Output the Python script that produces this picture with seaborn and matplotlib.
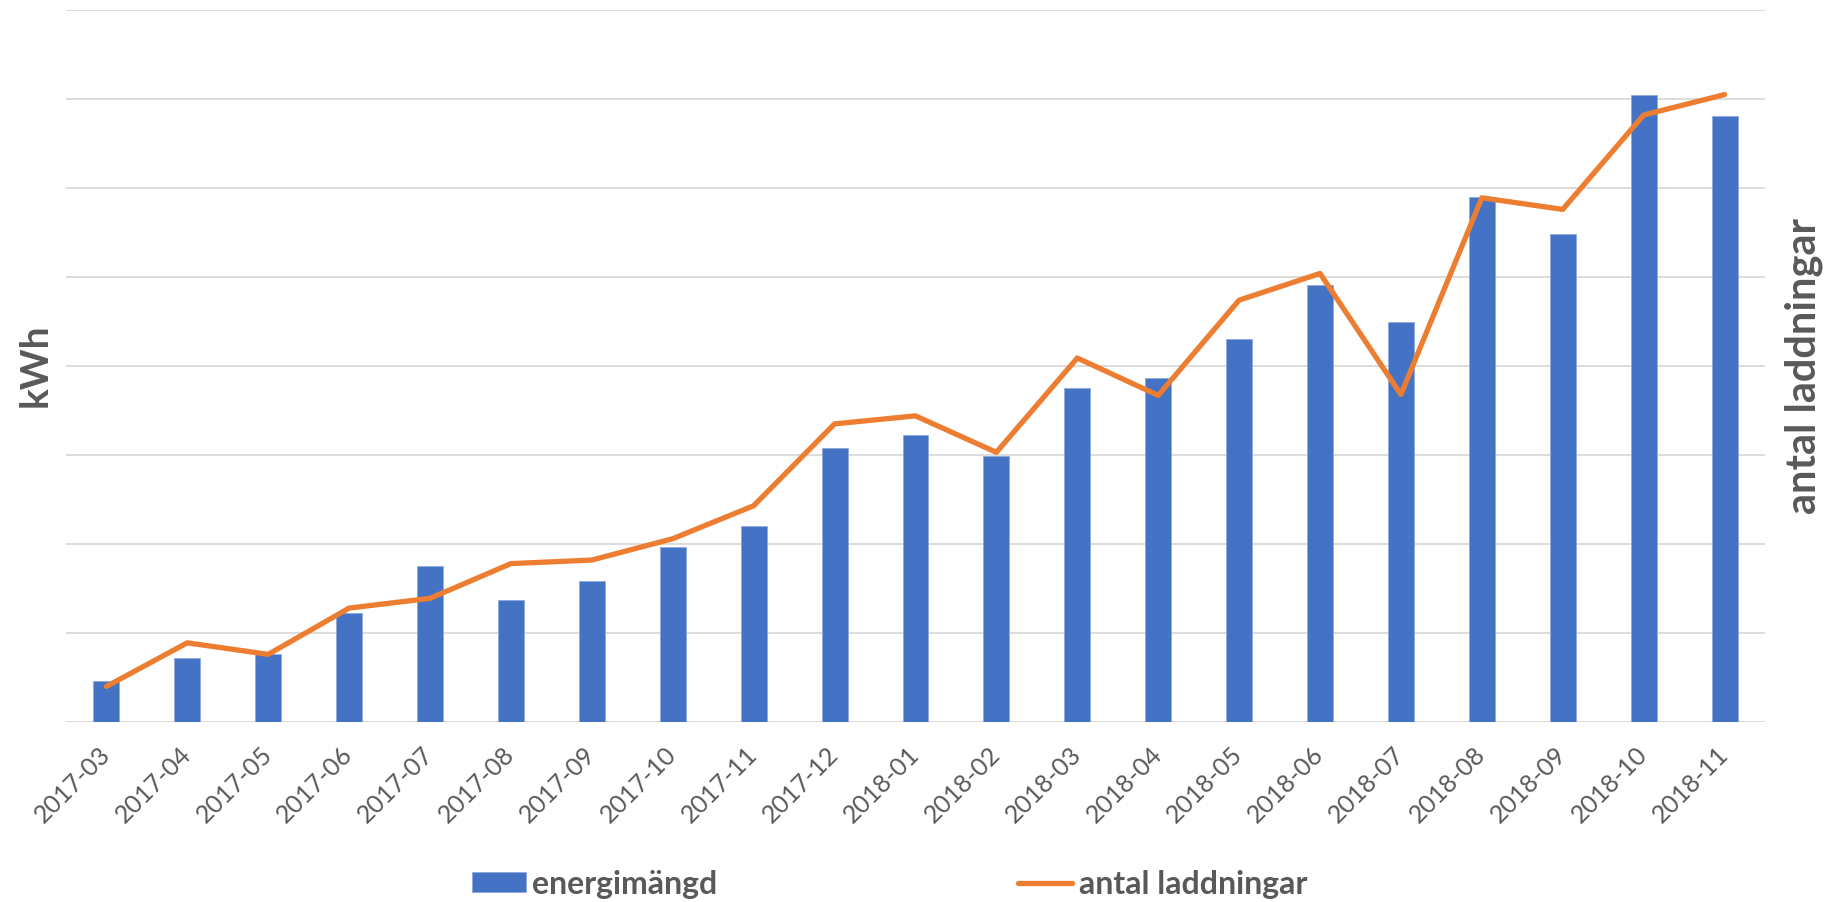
import numpy as np
import matplotlib
matplotlib.use("Agg")
import matplotlib.pyplot as plt
import seaborn as sns

# monthly values in gridline units (no tick labels shown)
months = [
    "2017-03", "2017-04", "2017-05", "2017-06", "2017-07", "2017-08", "2017-09",
    "2017-10", "2017-11", "2017-12", "2018-01", "2018-02", "2018-03", "2018-04",
    "2018-05", "2018-06", "2018-07", "2018-08", "2018-09", "2018-10", "2018-11",
]
energi_kwh = [0.46, 0.72, 0.77, 1.23, 1.75, 1.37, 1.58, 1.97, 2.20, 3.08, 3.22,
              2.99, 3.75, 3.87, 4.30, 4.91, 4.49, 5.90, 5.48, 7.05, 6.81]
antal_laddningar = [0.40, 0.89, 0.76, 1.28, 1.39, 1.78, 1.82, 2.06, 2.43, 3.35, 3.44,
                    3.03, 4.09, 3.67, 4.74, 5.04, 3.68, 5.89, 5.76, 6.82, 7.05]

BAR_COLOR = "#4472C4"
LINE_COLOR = "#ED7D31"
TEXT_COLOR = "#595959"
GRID_COLOR = "#D9D9D9"

sns.set_style("white")
plt.rcParams["font.family"] = ["Lato", "DejaVu Sans"]

fig = plt.figure(figsize=(18.26, 9.03), dpi=100)
ax = fig.add_axes([0.0361, 0.1993, 0.9305, 0.7885])

sns.barplot(x=months, y=energi_kwh, color=BAR_COLOR, width=0.32,
            edgecolor="#8FAADC", linewidth=0.6, saturation=1, ax=ax,
            label="energimängd", legend=False)
ax.set_ylim(0, 8)
ax.set_yticks(np.arange(0, 9))
ax.set_yticklabels([])
ax.yaxis.grid(True, color=GRID_COLOR, linewidth=1.3)
ax.set_axisbelow(True)
ax.tick_params(axis="both", length=0)
ax.tick_params(axis="x", pad=20, labelsize=18, labelcolor=TEXT_COLOR)
for lbl in ax.get_xticklabels():
    lbl.set_rotation(45)
    lbl.set_ha("right")
    lbl.set_va("center")
    lbl.set_rotation_mode("anchor")
ax.set_xlabel("")
ax.set_ylabel("")
for s in ax.spines.values():
    s.set_visible(False)

ax2 = ax.twinx()
sns.lineplot(x=np.arange(len(months)), y=antal_laddningar, color=LINE_COLOR,
             linewidth=3.8, ax=ax2, label="antal laddningar", legend=False)
ax2.set_ylim(0, 8)
ax2.set_yticks([])
ax2.set_ylabel("")
for s in ax2.spines.values():
    s.set_visible(False)
ax.set_xlim(-0.5, len(months) - 0.5)

fig.text(0.019, 0.595, "kWh", rotation=90, ha="center", va="center",
         fontsize=28, fontweight="bold", color=TEXT_COLOR)
fig.text(0.988, 0.595, "antal laddningar", rotation=90, ha="center", va="center",
         fontsize=30, fontweight="bold", color=TEXT_COLOR)

h1, l1 = ax.get_legend_handles_labels()
h2, l2 = ax2.get_legend_handles_labels()
leg = fig.legend(h1 + h2, l1 + l2, loc="center", bbox_to_anchor=(0.487, 0.02),
                 ncol=2, frameon=False, handlelength=1.7, handleheight=0.6,
                 handletextpad=0.2, columnspacing=9.4, borderpad=0.1,
                 prop={"weight": "bold", "size": 23})
for t in leg.get_texts():
    t.set_color(TEXT_COLOR)

fig.savefig("out.png", dpi=100)
